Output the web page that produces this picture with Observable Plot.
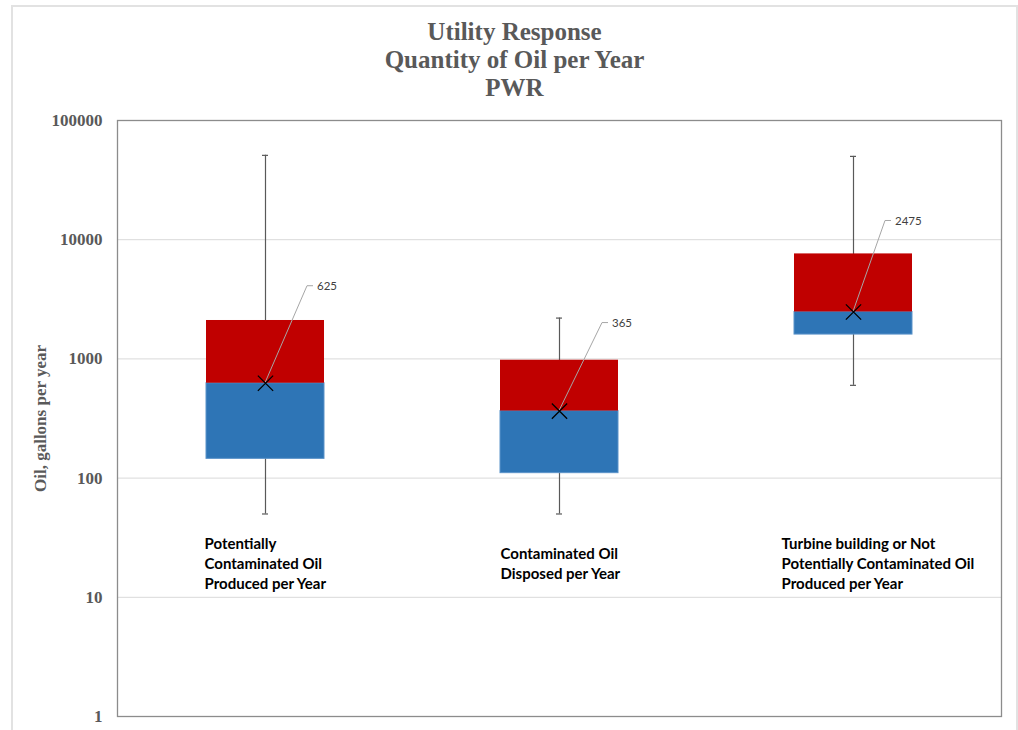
<!DOCTYPE html>
<html>
<head>
<meta charset="utf-8">
<script src="https://cdn.jsdelivr.net/npm/d3@7"></script>
<script src="https://cdn.jsdelivr.net/npm/@observablehq/plot@0.6"></script>
<style>
  html, body { margin: 0; padding: 0; background: #fff; }
  #page { position: relative; width: 1018px; height: 730px; overflow: hidden; background: #fff; }
  #title { position: absolute; left: 12px; top: 0; width: 1005px; height: 102px; box-sizing: border-box;
           padding-top: 18px; text-align: center; font: bold 25px/28px "Liberation Serif", serif; color: #595959; }
  #chart { position: absolute; left: 0; top: 102px; }
  #border { position: absolute; left: 11px; top: 5px; width: 1007px; height: 760px;
            border: 2px solid #e2e2e2; box-sizing: border-box; pointer-events: none; }
</style>
</head>
<body>
<div id="page">
  <div id="title">Utility Response<br>Quantity of Oil per Year<br>PWR</div>
  <div id="chart"></div>
  <div id="border"></div>
</div>
<script>
// Oil quantities (gallons per year) for each PWR category
const categories = [
  "Potentially Contaminated Oil Produced per Year",
  "Contaminated Oil Disposed per Year",
  "Turbine building or Not Potentially Contaminated Oil Produced per Year"
];
const categoryLabels = [
  "Potentially\nContaminated Oil\nProduced per Year",
  "Contaminated Oil\nDisposed per Year",
  "Turbine building or Not\nPotentially Contaminated Oil\nProduced per Year"
];
const minimum = [50, 50, 600];
const q1 = [145, 110, 1600];
const median = [625, 365, 2475];
const q3 = [2100, 975, 7600];
const maximum = [51000, 2200, 50000];
const mean = [625, 365, 2475];
const yTicks = [1, 10, 100, 1000, 10000, 100000];

// Pixel offsets of the mean label leaders and category text blocks
const leaderOffsets = [[42, -97], [43, -88], [32, -91]];
const labelDx = [-61, -59, -72];

const rows = categories.map((cat, i) => ({
  cat, min: minimum[i], q1: q1[i], median: median[i], q3: q3[i], max: maximum[i], mean: mean[i]
}));

const serif = "'Liberation Serif', serif";
const sans = "Lato, 'Open Sans', sans-serif";

// Leader line from each mean marker to its value label
function meanLabels() {
  return Plot.dot(rows, {
    x: "cat", y: "mean", r: 0,
    render(index, scales) {
      const g = d3.create("svg:g");
      const bw = scales.x.bandwidth ? scales.x.bandwidth() / 2 : 0;
      for (const i of index) {
        const d = rows[i];
        const x = scales.x(d.cat) + bw;
        const y = scales.y(d.mean);
        const [ox, oy] = leaderOffsets[i];
        g.append("path")
          .attr("d", `M${x},${y}L${x + ox},${y + oy}h6`)
          .attr("fill", "none")
          .attr("stroke", "#a6a6a6")
          .attr("stroke-width", 1);
        g.append("text")
          .attr("x", x + ox + 10)
          .attr("y", y + oy)
          .attr("dy", "0.35em")
          .attr("text-anchor", "start")
          .attr("font-family", sans)
          .attr("font-size", 11.5)
          .attr("fill", "#404040")
          .text(d.mean);
      }
      return g.node();
    }
  });
}

const chart = Plot.plot({
  width: 1018,
  height: 628,
  marginTop: 18,
  marginBottom: 14,
  marginLeft: 117,
  marginRight: 17,
  style: { fontFamily: serif, background: "transparent" },
  x: { domain: categories, paddingInner: 0.6, paddingOuter: 0.3, axis: null },
  y: { type: "log", domain: [1, 100000], axis: null },
  marks: [
    Plot.gridY(yTicks.slice(1, -1), { stroke: "#d9d9d9", strokeOpacity: 1, strokeWidth: 1 }),
    Plot.frame({ stroke: "#8c8c8c", strokeWidth: 1.3 }),
    Plot.axisY(yTicks, {
      tickFormat: d => String(d), tickSize: 0, tickPadding: 15,
      fontSize: 17, fontWeight: "bold", fontFamily: serif, color: "#595959", label: null
    }),
    Plot.text(["Oil, gallons per year"], {
      frameAnchor: "left", rotate: -90, dx: -77, textAnchor: "middle",
      fontSize: 17, fontWeight: "bold", fontFamily: serif, fill: "#595959"
    }),
    // whiskers and caps
    Plot.ruleX(rows, { x: "cat", y1: "min", y2: "max", stroke: "#595959", strokeWidth: 1.2 }),
    Plot.tickY(rows, { x: "cat", y: "min", stroke: "#595959", strokeWidth: 1.2, insetLeft: 56, insetRight: 56 }),
    Plot.tickY(rows, { x: "cat", y: "max", stroke: "#595959", strokeWidth: 1.2, insetLeft: 56, insetRight: 56 }),
    // box halves
    Plot.barY(rows, { x: "cat", y1: "q1", y2: "median", fill: "#2E75B6", stroke: "#5a93c9", strokeWidth: 1 }),
    Plot.barY(rows, { x: "cat", y1: "median", y2: "q3", fill: "#C00000" }),
    meanLabels(),
    Plot.dot(rows, { x: "cat", y: "mean", symbol: "times", r: 7, stroke: "black", strokeWidth: 1.3 }),
    // category text blocks
    ...categories.map((cat, i) => Plot.text([categoryLabels[i]], {
      x: [cat], text: d => d, frameAnchor: "bottom", dy: -154, dx: labelDx[i],
      textAnchor: "start", lineAnchor: "middle", lineHeight: 1.33,
      fontSize: 15, fontWeight: "bold", fontFamily: sans, fill: "black"
    }))
  ]
});

document.getElementById("chart").appendChild(chart);
</script>
</body>
</html>
